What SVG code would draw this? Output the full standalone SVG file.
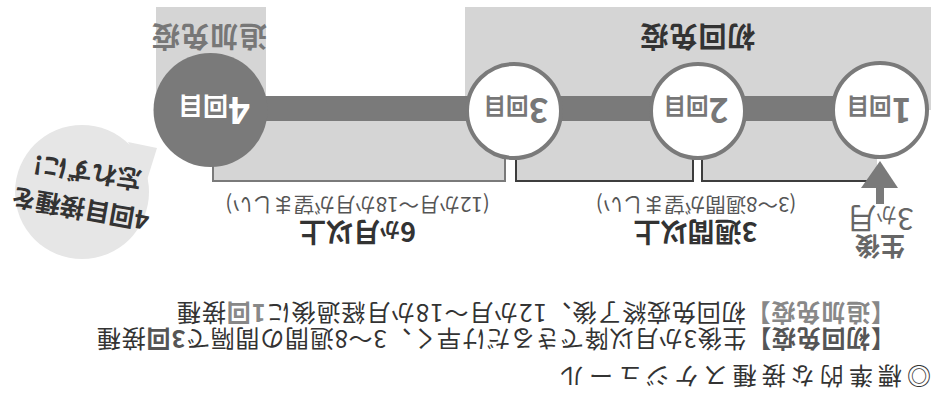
<svg xmlns="http://www.w3.org/2000/svg" width="931" height="394" viewBox="0 0 931 394">
<style>
text{font-family:"Noto Sans CJK JP","Noto Sans",sans-serif;}
.b{font-weight:bold;}
.lbl{fill:#777;font-weight:bold;text-anchor:middle;}
.sub{fill:#555;font-size:20.5px;text-anchor:middle;}
.big{fill:#333;font-weight:bold;font-size:27px;text-anchor:middle;}
.txt{fill:#333;font-size:24px;}
.ring{fill:#fff;stroke:#7a7a7a;stroke-width:4;}
.area{fill:#d5d5d5;}
</style>
<rect width="931" height="394" fill="#fff"/>
<g transform="rotate(180 465.5 197)">
  <g id="areas">
    <rect class="area" x="0" y="284" width="466" height="103"/>
    <rect class="area" x="665" y="284" width="110" height="103"/>
    <rect class="area" x="426" y="213" width="292" height="60"/>
    <rect class="area" x="238" y="213" width="177" height="60"/>
    <rect class="area" x="54" y="213" width="175" height="60"/>
    <text x="722" y="368" class="b" font-size="28" fill="#777" text-anchor="middle" letter-spacing="1">追加免疫</text>
    <text x="233.5" y="368" class="b" font-size="28" fill="#333" text-anchor="middle" letter-spacing="1">初回免疫</text>
  </g>
  <g id="connectors" fill="none">
    <rect x="51" y="273" width="670" height="25" fill="#7a7a7a"/>
    <path d="M718,273 V213 H426 V273" stroke="#7a7a7a" stroke-width="2"/>
    <path d="M415,273 V213 H238 V273" stroke="#3d3d3d" stroke-width="2"/>
    <path d="M229,273 V213 H54" stroke="#3d3d3d" stroke-width="2"/>
    <polygon points="51,233 33,206 70,206" fill="#7a7a7a"/>
    <rect x="47" y="190" width="8" height="17" fill="#7a7a7a"/>
  </g>
  <g id="dose1">
    <circle class="ring" cx="51" cy="284" r="47"/>
    <text class="lbl" x="52" y="296"><tspan font-size="34">1</tspan><tspan font-size="22.5">回目</tspan></text>
  </g>
  <g id="dose2">
    <circle class="ring" cx="233" cy="283" r="47"/>
    <text class="lbl" x="235" y="296"><tspan font-size="34">2</tspan><tspan font-size="22.5">回目</tspan></text>
  </g>
  <g id="dose3">
    <circle class="ring" cx="417" cy="283" r="47"/>
    <text class="lbl" x="415" y="296"><tspan font-size="34">3</tspan><tspan font-size="22.5">回目</tspan></text>
  </g>
  <g id="dose4">
    <circle cx="720.5" cy="284" r="57" fill="#7a7a7a"/>
    <text class="lbl" x="717" y="297" style="fill:#fff"><tspan font-size="37">4</tspan><tspan font-size="25">回目</tspan></text>
  </g>
  <g id="start">
    <text x="51" y="157" class="b" font-size="25" fill="#666" text-anchor="middle">生後</text>
    <text x="51" y="186" font-size="30" fill="#666" text-anchor="middle">3<tspan font-size="21">か</tspan>月</text>
  </g>
  <g id="interval-booster">
    <text class="sub" x="573.5" y="197">(12か月〜18か月が望ましい)</text>
    <text class="big" x="573.5" y="172">6<tspan font-size="20">か</tspan>月以上</text>
  </g>
  <g id="interval-primary">
    <text class="sub" x="235" y="197">(3〜8週間が望ましい)</text>
    <text class="big" x="235.5" y="172">3週間以上</text>
  </g>
  <g id="bubble">
    <circle cx="849" cy="202" r="67" fill="#e6e6e6"/>
    <polygon points="774,246 803,252 784,214" fill="#e6e6e6"/>
    <text class="b" font-size="25" fill="#333" text-anchor="middle" transform="translate(851,185.5) rotate(10)" y="9">4回目接種を</text>
    <text class="b" font-size="25" fill="#333" text-anchor="middle" transform="translate(843.5,222) rotate(8.5)" y="9">忘れずに!</text>
  </g>
  <g id="notes">
    <text class="txt" x="0" y="27" font-size="27" textLength="371" lengthAdjust="spacing">◎標準的な接種スケジュール</text>
    <text class="txt" x="36" y="64" textLength="798" lengthAdjust="spacing"><tspan class="b" fill="#555">【初回免疫】</tspan>生後3か月以降できるだけ早く、3〜8週間の間隔で<tspan class="b" fill="#555">3回</tspan>接種</text>
    <text class="txt" x="36" y="90" textLength="718" lengthAdjust="spacing"><tspan class="b" fill="#888">【追加免疫】</tspan>初回免疫終了後、12か月〜18か月経過後に<tspan class="b" fill="#888">1回</tspan>接種</text>
  </g>
</g>
</svg>
